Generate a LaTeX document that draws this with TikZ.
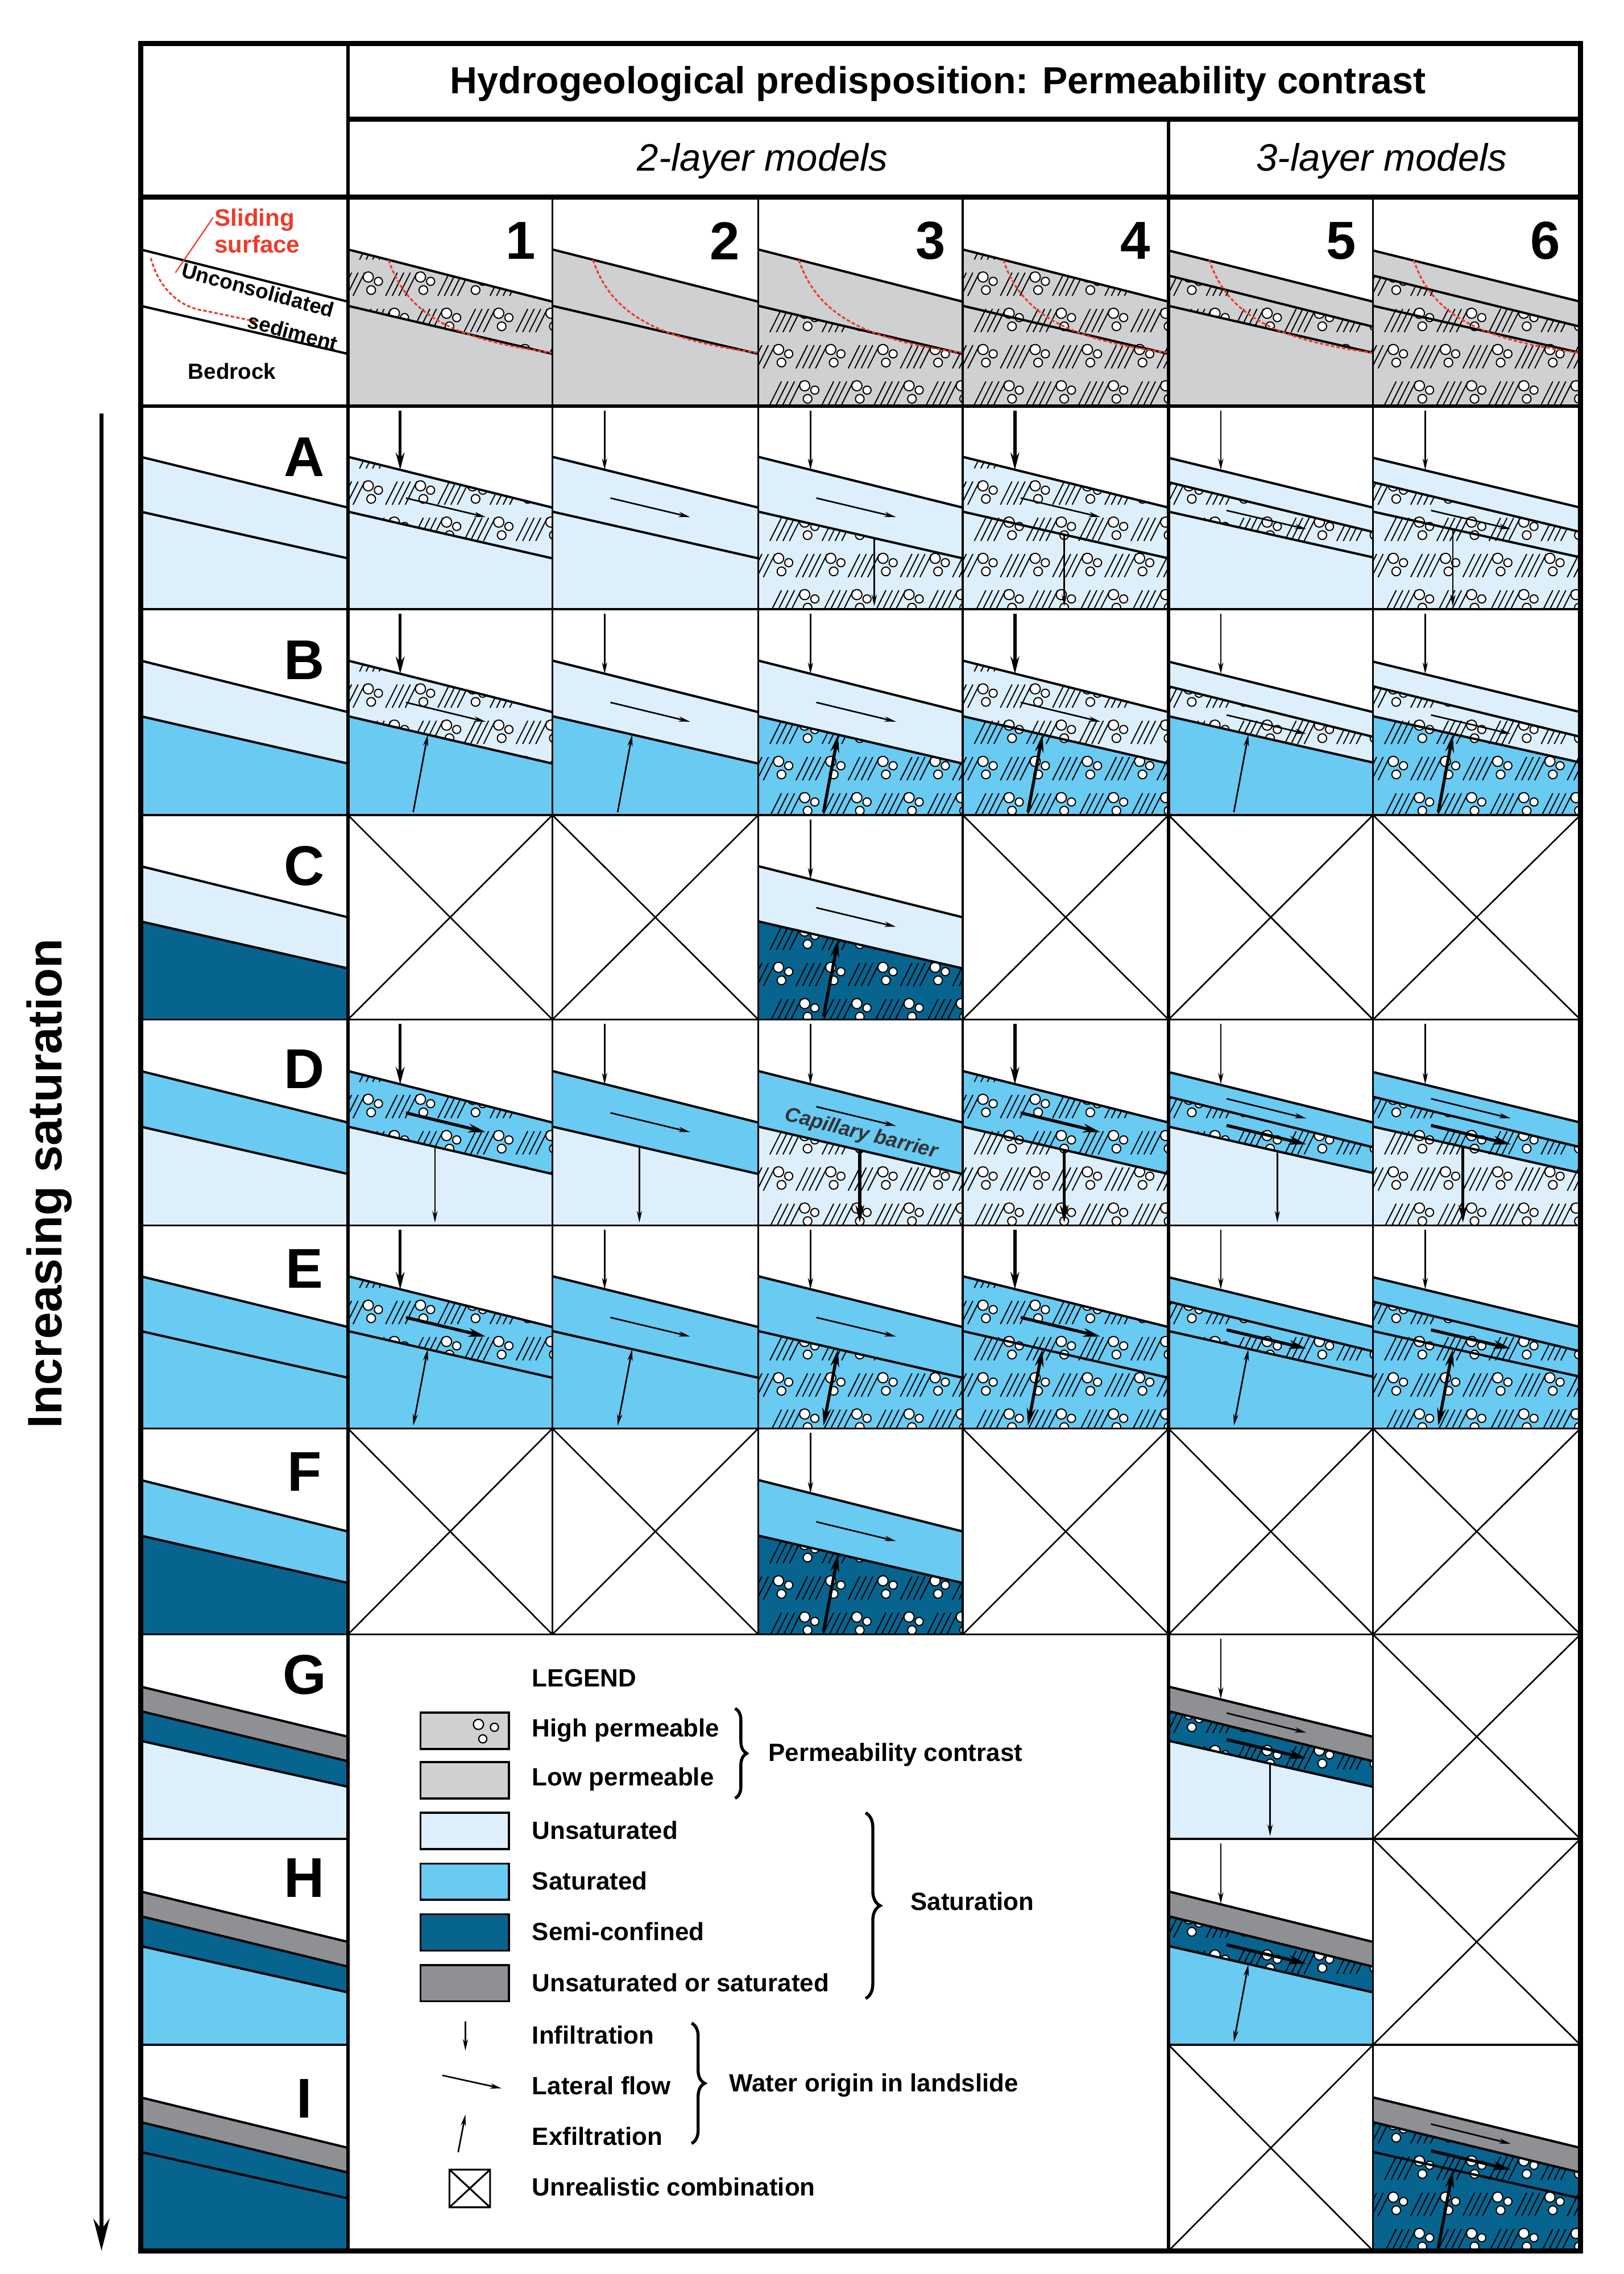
\documentclass[tikz,border=0pt]{standalone}
\usepackage{fontspec}
\setmainfont{Liberation Sans}
\usetikzlibrary{arrows.meta,decorations.pathreplacing}
\definecolor{lg}{HTML}{CFD0D2}
\definecolor{us}{HTML}{DCEFFA}
\definecolor{sa}{HTML}{69CAF2}
\definecolor{sc}{HTML}{06648F}
\definecolor{dg}{HTML}{8F9093}
\definecolor{rd}{HTML}{EE3B2B}
\tikzset{
 lay/.style={line width=4.5pt,black},
 hl/.style={line width=2.2pt,black},
 circ/.style={line width=2.2pt,black,fill=white},
 grid/.style={line width=4pt,black},
 thk/.style={line width=10pt,black},
 med/.style={line width=7pt,black},
 xl/.style={line width=3pt,black},
 arA/.style={line width=3pt,-{Stealth[length=8mm,width=3.6mm]}},
 arB/.style={line width=6pt,-{Stealth[length=12mm,width=6mm]}},
 arAA/.style={line width=3pt,{Stealth[length=8mm,width=3.6mm]}-{Stealth[length=8mm,width=3.6mm]}},
 arBB/.style={line width=6pt,{Stealth[length=12mm,width=6mm]}-{Stealth[length=12mm,width=6mm]}},
 slid/.style={rd,line width=3.5pt,dash pattern=on 7pt off 4pt},
 lett/.style={font=\fontsize{110}{115}\selectfont\bfseries,inner sep=0},
 legt/.style={font=\fontsize{49}{54}\selectfont\bfseries,anchor=west,inner sep=0},
 legbox/.style={line width=4pt,draw=black},
}
\newcommand\textu[4]{%
 \foreach \i in {0,...,4}{\foreach \j in {0,...,5}{%
  \pgfmathsetmacro\px{#1+\i*36+mod(\j,2)*18-10}%
  \pgfmathsetmacro\py{#2+\j*25}%
  \draw[hl] (\px,\py+18)--(\px+8,\py+2) (\px+4.5,\py+18)--(\px+12.5,\py+2) (\px+9,\py+18)--(\px+17,\py+2) (\px+13.5,\py+18)--(\px+21.5,\py+2);
  \draw[circ] (\px+24,\py+5) circle (3.5) (\px+31,\py+8) circle (2.8) (\px+26,\py+14) circle (3);
 }}}
\newcommand\cellII[8]{%
 \pgfmathsetmacro\ya{#2+0.25*#4}\pgfmathsetmacro\yb{#2+0.50*#4}%
 \pgfmathsetmacro\yc{#2+0.52*#4}\pgfmathsetmacro\yd{#2+0.75*#4}%
 \pgfmathsetmacro\xr{#1+#3}\pgfmathsetmacro\yB{#2+#4}%
 \fill[#5] (#1,\ya)--(\xr,\yb)--(\xr,\yd)--(#1,\yc)--cycle;
 \fill[#6] (#1,\yc)--(\xr,\yd)--(\xr,\yB)--(#1,\yB)--cycle;
 \ifnum#7=1 \begin{scope}\clip (#1,\ya)--(\xr,\yb)--(\xr,\yd)--(#1,\yc)--cycle; \textu{#1}{#2}{#3}{#4}\end{scope}\fi
 \ifnum#8=1 \begin{scope}\clip (#1,\yc)--(\xr,\yd)--(\xr,\yB)--(#1,\yB)--cycle; \textu{#1}{#2}{#3}{#4}\end{scope}\fi
 \draw[lay] (#1,\ya)--(\xr,\yb) (#1,\yc)--(\xr,\yd);
}
\newcommand\cellIII[9]{%
 \pgfmathsetmacro\ya{#2+0.255*#4}\pgfmathsetmacro\yb{#2+0.50*#4}%
 \pgfmathsetmacro\yc{#2+0.375*#4}\pgfmathsetmacro\yd{#2+0.62*#4}%
 \pgfmathsetmacro\ye{#2+0.52*#4}\pgfmathsetmacro\yf{#2+0.745*#4}%
 \pgfmathsetmacro\xr{#1+#3}\pgfmathsetmacro\yB{#2+#4}%
 \fill[#5] (#1,\ya)--(\xr,\yb)--(\xr,\yd)--(#1,\yc)--cycle;
 \fill[#6] (#1,\yc)--(\xr,\yd)--(\xr,\yf)--(#1,\ye)--cycle;
 \fill[#7] (#1,\ye)--(\xr,\yf)--(\xr,\yB)--(#1,\yB)--cycle;
 \ifnum#8=1 \begin{scope}\clip (#1,\yc)--(\xr,\yd)--(\xr,\yf)--(#1,\ye)--cycle; \textu{#1}{#2}{#3}{#4}\end{scope}\fi
 \ifnum#9=1 \begin{scope}\clip (#1,\ye)--(\xr,\yf)--(\xr,\yB)--(#1,\yB)--cycle; \textu{#1}{#2}{#3}{#4}\end{scope}\fi
 \draw[lay] (#1,\ya)--(\xr,\yb) (#1,\yc)--(\xr,\yd) (#1,\ye)--(\xr,\yf);
}
\newcommand\infl[4]{\draw[#4] (#1+36,#2+3)--(#1+36,{#2+0.315*#3});}
\newcommand\latf[6]{\draw[#6] (#1+40,{#2+#3*(#4+#5*40/141)})--(#1+95,{#2+#3*(#4+#5*95/141)});}
\newcommand\dnf[5]{\draw[#5] (#1+#4,{#2+#3*(0.52+0.23*#4/141)})--(#1+#4,#2+#3-2);}
\newcommand\upf[4]{\draw[#4] (#1+45,#2+#3-2)--(#1+55,{#2+#3*(0.52+0.23*55/141)});}
\newcommand\xcell[4]{\draw[xl] (#1,#2)--(#3,#4) (#1,#4)--(#3,#2);}
\newcommand\slide[4]{\draw[slid] (#1+28,{#2+#4*0.30}) .. controls (#1+40,{#2+#4*0.55}) and (#1+70,{#2+#4*0.68}) .. (#1+#3,{#2+#4*0.745});}
\begin{document}
\begin{tikzpicture}[x=1mm,y=-1mm]
\useasboundingbox (0,0) rectangle (1120,1568);
\fill[white] (0,0) rectangle (1120,1568);
% ---------- sketch row
\cellII{97}{136}{143}{144}{white}{white}{0}{0}
\draw[slid] (104,178) .. controls (110,200) and (125,212) .. (140,214) -- (178,222);
\draw[rd,line width=2.5pt] (147,150) -- (121,188);
\node[font=\fontsize{47}{52}\selectfont\bfseries,text=rd,align=left,anchor=north west,inner sep=0] (slidlab) at (148,144) {Sliding\\surface};
\node[font=\fontsize{41}{44}\selectfont\bfseries,rotate=-15,inner sep=0,fill=white,fill opacity=0,text opacity=1] (unc) at (178,200) {Unconsolidated};
\node[font=\fontsize{41}{44}\selectfont\bfseries,rotate=-15,inner sep=0] (sed) at (202,229) {sediment};
\node[font=\fontsize{43}{46}\selectfont\bfseries,inner sep=0] (bed) at (160,256) {Bedrock};
\cellII{240}{136}{141}{144}{lg}{lg}{1}{0}
\cellII{381}{136}{142}{144}{lg}{lg}{0}{0}
\cellII{523}{136}{141}{144}{lg}{lg}{0}{1}
\cellII{664}{136}{142}{144}{lg}{lg}{1}{1}
\cellIII{806}{136}{141}{144}{lg}{lg}{lg}{1}{0}
\cellIII{947}{136}{143}{144}{lg}{lg}{lg}{1}{1}
\slide{240}{136}{141}{144}\slide{381}{136}{142}{144}\slide{523}{136}{141}{144}
\slide{664}{136}{142}{144}\slide{806}{136}{141}{144}\slide{947}{136}{143}{144}
\foreach \n/\xx in {1/359,2/500,3/642,4/783,5/925,6/1066}
  \node[lett,font=\fontsize{105}{110}\selectfont\bfseries] (num\n) at (\xx,166) {\n};
% ---------- left column
\cellII{97}{280}{143}{140}{us}{us}{0}{0}
\cellII{97}{420}{143}{142}{us}{sa}{0}{0}
\cellII{97}{562}{143}{141}{us}{sc}{0}{0}
\cellII{97}{703}{143}{142}{sa}{us}{0}{0}
\cellII{97}{845}{143}{140}{sa}{sa}{0}{0}
\cellII{97}{985}{143}{142}{sa}{sc}{0}{0}
\cellIII{97}{1127}{143}{141}{dg}{sc}{us}{0}{0}
\cellIII{97}{1268}{143}{142}{dg}{sc}{sa}{0}{0}
\cellIII{97}{1410}{143}{142}{dg}{sc}{sc}{0}{0}
\foreach \L/\yy in {A/315,B/455,C/597,D/737,E/875,F/1015,G/1155,H/1295,I/1447}
  \node[lett] (let\L) at (210,\yy) {\L};
% ---------- row A
\cellII{240}{280}{141}{140}{us}{us}{1}{0}
\cellII{381}{280}{142}{140}{us}{us}{0}{0}
\cellII{523}{280}{141}{140}{us}{us}{0}{1}
\cellII{664}{280}{142}{140}{us}{us}{1}{1}
\cellIII{806}{280}{141}{140}{us}{us}{us}{1}{0}
\cellIII{947}{280}{143}{140}{us}{us}{us}{1}{1}
\infl{240}{280}{140}{arB}\infl{381}{280}{140}{arA}\infl{523}{280}{140}{arA}
\infl{664}{280}{140}{arB}\infl{806}{280}{140}{arA}\infl{947}{280}{140}{arA}
\latf{240}{280}{140}{0.385}{0.24}{arA}\latf{381}{280}{140}{0.385}{0.24}{arA}
\latf{523}{280}{140}{0.385}{0.24}{arA}\latf{664}{280}{140}{0.385}{0.24}{arA}
\latf{806}{280}{140}{0.4475}{0.235}{arA}\latf{947}{280}{140}{0.4475}{0.235}{arA}
\dnf{523}{280}{140}{80}{arA}\dnf{664}{280}{140}{70}{arA}\dnf{947}{280}{140}{55}{arA}
% ---------- row B
\cellII{240}{420}{141}{142}{us}{sa}{1}{0}
\cellII{381}{420}{142}{142}{us}{sa}{0}{0}
\cellII{523}{420}{141}{142}{us}{sa}{0}{1}
\cellII{664}{420}{142}{142}{us}{sa}{1}{1}
\cellIII{806}{420}{141}{142}{us}{us}{sa}{1}{0}
\cellIII{947}{420}{143}{142}{us}{us}{sa}{1}{1}
\infl{240}{420}{142}{arB}\infl{381}{420}{142}{arA}\infl{523}{420}{142}{arA}
\infl{664}{420}{142}{arB}\infl{806}{420}{142}{arA}\infl{947}{420}{142}{arA}
\latf{240}{420}{142}{0.385}{0.24}{arA}\latf{381}{420}{142}{0.385}{0.24}{arA}
\latf{523}{420}{142}{0.385}{0.24}{arA}\latf{664}{420}{142}{0.385}{0.24}{arA}
\latf{806}{420}{142}{0.4475}{0.235}{arA}\latf{947}{420}{142}{0.4475}{0.235}{arA}
\upf{240}{420}{142}{arA}\upf{381}{420}{142}{arA}\upf{523}{420}{142}{arB}
\upf{664}{420}{142}{arB}\upf{806}{420}{142}{arA}\upf{947}{420}{142}{arB}
% ---------- row C
\cellII{523}{562}{141}{141}{us}{sc}{0}{1}
\infl{523}{562}{141}{arA}\latf{523}{562}{141}{0.385}{0.24}{arA}\upf{523}{562}{141}{arB}
\xcell{240}{562}{381}{703}\xcell{381}{562}{523}{703}\xcell{664}{562}{806}{703}
\xcell{806}{562}{947}{703}\xcell{947}{562}{1090}{703}
% ---------- row D
\cellII{240}{703}{141}{142}{sa}{us}{1}{0}
\cellII{381}{703}{142}{142}{sa}{us}{0}{0}
\cellII{523}{703}{141}{142}{sa}{us}{0}{1}
\cellII{664}{703}{142}{142}{sa}{us}{1}{1}
\cellIII{806}{703}{141}{142}{sa}{sa}{us}{1}{0}
\cellIII{947}{703}{143}{142}{sa}{sa}{us}{1}{1}
\infl{240}{703}{142}{arB}\infl{381}{703}{142}{arA}\infl{523}{703}{142}{arA}
\infl{664}{703}{142}{arB}\infl{806}{703}{142}{arA}\infl{947}{703}{142}{arA}
\latf{240}{703}{142}{0.385}{0.24}{arB}\latf{381}{703}{142}{0.385}{0.24}{arA}
\latf{523}{703}{142}{0.355}{0.24}{arA}\latf{664}{703}{142}{0.385}{0.24}{arB}
\latf{806}{703}{142}{0.315}{0.245}{arA}\latf{806}{703}{142}{0.4475}{0.235}{arB}
\latf{947}{703}{142}{0.315}{0.245}{arA}\latf{947}{703}{142}{0.4475}{0.235}{arB}
\dnf{240}{703}{142}{60}{arA}\dnf{381}{703}{142}{60}{arA}\dnf{523}{703}{142}{70}{arB}
\dnf{664}{703}{142}{70}{arB}\dnf{806}{703}{142}{75}{arA}\dnf{947}{703}{142}{62}{arB}
\node[font=\fontsize{40}{44}\selectfont\bfseries\itshape,rotate=-14,text=black!80,inner sep=0] (capb) at (594,782) {Capillary barrier};
% ---------- row E
\cellII{240}{845}{141}{140}{sa}{sa}{1}{0}
\cellII{381}{845}{142}{140}{sa}{sa}{0}{0}
\cellII{523}{845}{141}{140}{sa}{sa}{0}{1}
\cellII{664}{845}{142}{140}{sa}{sa}{1}{1}
\cellIII{806}{845}{141}{140}{sa}{sa}{sa}{1}{0}
\cellIII{947}{845}{143}{140}{sa}{sa}{sa}{1}{1}
\infl{240}{845}{140}{arB}\infl{381}{845}{140}{arA}\infl{523}{845}{140}{arA}
\infl{664}{845}{140}{arB}\infl{806}{845}{140}{arA}\infl{947}{845}{140}{arA}
\latf{240}{845}{140}{0.385}{0.24}{arB}\latf{381}{845}{140}{0.385}{0.24}{arA}
\latf{523}{845}{140}{0.385}{0.24}{arA}\latf{664}{845}{140}{0.385}{0.24}{arB}
\latf{806}{845}{140}{0.4475}{0.235}{arB}\latf{947}{845}{140}{0.4475}{0.235}{arB}
\upf{240}{845}{140}{arAA}\upf{381}{845}{140}{arAA}\upf{523}{845}{140}{arBB}
\upf{664}{845}{140}{arBB}\upf{806}{845}{140}{arAA}\upf{947}{845}{140}{arBB}
% ---------- row F
\cellII{523}{985}{141}{142}{sa}{sc}{0}{1}
\infl{523}{985}{142}{arA}\latf{523}{985}{142}{0.385}{0.24}{arA}\upf{523}{985}{142}{arB}
\xcell{240}{985}{381}{1127}\xcell{381}{985}{523}{1127}\xcell{664}{985}{806}{1127}
\xcell{806}{985}{947}{1127}\xcell{947}{985}{1090}{1127}
% ---------- rows G H I (3-layer)
\cellIII{806}{1127}{141}{141}{dg}{sc}{us}{1}{0}
\infl{806}{1127}{141}{arA}\latf{806}{1127}{141}{0.315}{0.245}{arA}\latf{806}{1127}{141}{0.4475}{0.235}{arB}\dnf{806}{1127}{141}{70}{arA}
\cellIII{806}{1268}{141}{142}{dg}{sc}{sa}{1}{0}
\infl{806}{1268}{142}{arA}\latf{806}{1268}{142}{0.4475}{0.235}{arB}\upf{806}{1268}{142}{arAA}
\cellIII{947}{1410}{143}{142}{dg}{sc}{sc}{1}{1}
\latf{947}{1410}{142}{0.315}{0.245}{arA}\latf{947}{1410}{142}{0.4475}{0.235}{arB}\upf{947}{1410}{142}{arB}
\xcell{947}{1127}{1090}{1268}\xcell{947}{1268}{1090}{1410}\xcell{806}{1410}{947}{1552}
% ---------- grid
\foreach \yy in {280,420,562,703,845,985,1127} \draw[grid] (97,\yy)--(1090,\yy);
\foreach \yy in {1268,1410} {\draw[grid] (97,\yy)--(240,\yy); \draw[grid] (806,\yy)--(1090,\yy);}
\foreach \xx in {381,523,664} \draw[grid] (\xx,136)--(\xx,1127);
\draw[grid] (947,136)--(947,1552);
\draw[med] (806,82)--(806,1552);
\draw[med] (240,30)--(240,1552);
\draw[med] (97,280)--(1090,280);
\draw[thk] (97,136)--(1090,136) (240,82)--(1090,82);
\draw[thk] (97,30) rectangle (1090,1552);
% ---------- header texts
\node[font=\fontsize{74}{80}\selectfont\bfseries,inner sep=0] (title) at (647,58) {Hydrogeological predisposition: Permeability contrast};
\node[font=\fontsize{75}{80}\selectfont\itshape,inner sep=0] (two) at (526,111) {2-layer models};
\node[font=\fontsize{75}{80}\selectfont\itshape,inner sep=0] (three) at (953,111) {3-layer models};
% ---------- side arrow
\draw[line width=8pt,-{Stealth[length=22mm,width=11mm]}] (70,285)--(70,1552);
\node[font=\fontsize{95}{100}\selectfont\bfseries,rotate=90,inner sep=0] (incsat) at (34,816) {Increasing saturation};
% ---------- legend
\node[legt] (legend) at (367,1157) {LEGEND};
\draw[legbox,fill=lg] (290,1181) rectangle (351,1206);
\draw[circ,line width=2.5pt] (330,1189) circle (3.5) (341,1191) circle (2.8) (333,1199) circle (2.8);
\draw[legbox,fill=lg] (290,1215) rectangle (351,1240);
\draw[legbox,fill=us] (290,1250) rectangle (351,1275);
\draw[legbox,fill=sa] (290,1285) rectangle (351,1310);
\draw[legbox,fill=sc] (290,1320) rectangle (351,1345);
\draw[legbox,fill=dg] (290,1355) rectangle (351,1380);
\node[legt] (l1) at (367,1193) {High permeable};
\node[legt] (l2) at (367,1227) {Low permeable};
\node[legt] (l3) at (367,1262) {Unsaturated};
\node[legt] (l4) at (367,1297) {Saturated};
\node[legt] (l5) at (367,1332) {Semi-confined};
\node[legt] (l6) at (367,1367) {Unsaturated or saturated};
\node[legt] (l7) at (367,1403) {Infiltration};
\node[legt] (l8) at (367,1438) {Lateral flow};
\node[legt] (l9) at (367,1473) {Exfiltration};
\node[legt] (l10) at (367,1508) {Unrealistic combination};
\draw[line width=6pt,decorate,decoration={brace,amplitude=8mm}] (507,1178)--(507,1240);
\node[legt] (pc) at (530,1210) {Permeability contrast};
\draw[line width=6pt,decorate,decoration={brace,amplitude=10mm}] (597,1250)--(597,1378);
\node[legt] (sat) at (628,1311) {Saturation};
\draw[line width=6pt,decorate,decoration={brace,amplitude=9mm}] (477,1395)--(477,1478);
\node[legt] (wo) at (503,1438) {Water origin in landslide};
\draw[arA] (321,1394)--(321,1414);
\draw[arA] (305,1431)--(346,1440);
\draw[arA] (316,1484)--(321,1458);
\draw[line width=3.5pt] (310,1496) rectangle (338,1522) (310,1496)--(338,1522) (310,1522)--(338,1496);
\end{tikzpicture}
\end{document}
